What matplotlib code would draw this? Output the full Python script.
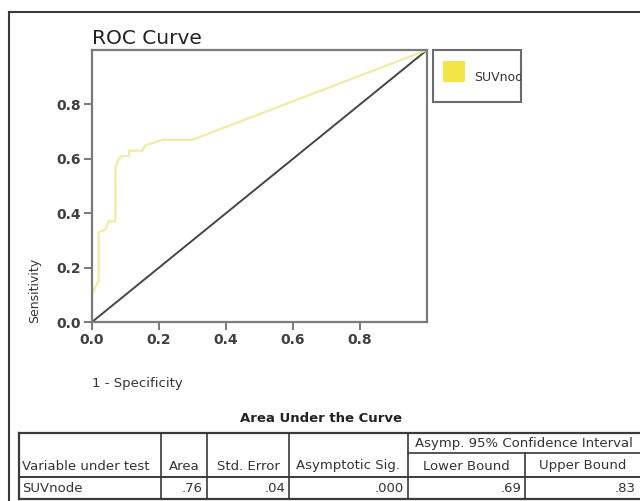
import matplotlib
matplotlib.use("Agg")
import matplotlib.pyplot as plt
from matplotlib.lines import Line2D
from matplotlib.patches import Rectangle

# --- data -------------------------------------------------------------
fpr = [0, 0, 0.01, 0.02, 0.02, 0.04, 0.05, 0.07, 0.07, 0.08, 0.09, 0.11,
       0.11, 0.15, 0.16, 0.21, 0.30, 1.0]
tpr = [0, 0.10, 0.13, 0.15, 0.33, 0.34, 0.37, 0.37, 0.57, 0.60, 0.61, 0.61,
       0.63, 0.63, 0.65, 0.67, 0.67, 1.0]
ref_line = [0, 1]
ticks = [0.0, 0.2, 0.4, 0.6, 0.8]
series_name = "SUVnode"

table_title = "Area Under the Curve"
header_top = "Asymp. 95% Confidence Interval"
headers = ["Variable under test", "Area", "Std. Error", "Asymptotic Sig.",
           "Lower Bound", "Upper Bound"]
row = ["SUVnode", ".76", ".04", ".000", ".69", ".83"]

W, H = 640, 501
GREY = "#3a3a3a"
AXG = "#7a7a7a"


def px(x, y):
    return x / W, 1 - y / H


fig = plt.figure(figsize=(W / 100, H / 100), dpi=100)
fig.patch.set_facecolor("white")

# outer frame (top and left only)
fig.add_artist(Line2D([px(9, 0)[0], 1], [px(0, 12)[1]] * 2, color=GREY, lw=1.5))
fig.add_artist(Line2D([px(9, 0)[0]] * 2, [px(0, 12)[1], 0], color=GREY, lw=1.5))

# --- ROC plot ---------------------------------------------------------
ax = fig.add_axes([92 / W, 1 - 322 / H, (427 - 92) / W, (322 - 50) / H])
ax.plot(ref_line, ref_line, color="#454545", lw=1.4)
ax.plot(fpr, tpr, color="#f0eba6", lw=1.6)
ax.set_xlim(0, 1)
ax.set_ylim(0, 1)
ax.set_xticks(ticks)
ax.set_yticks(ticks)
ax.set_xticklabels([f"{t:.1f}" for t in ticks])
ax.set_yticklabels([f"{t:.1f}" for t in ticks])
for s in ax.spines.values():
    s.set_color(AXG)
    s.set_linewidth(1.6)
ax.tick_params(direction="out", length=6, width=1.4, color=AXG,
               labelsize=10, labelcolor="#404040", pad=2)
for lab in ax.get_xticklabels() + ax.get_yticklabels():
    lab.set_fontweight("bold")

fig.text(*px(92, 44), "ROC Curve", fontsize=14.5, color="#222222",
         ha="left", va="baseline")
fig.text(*px(35, 290), "Sensitivity", fontsize=9, color="#333333",
         rotation=90, ha="center", va="center")
fig.text(*px(92, 383), "1 - Specificity", fontsize=9.5, color="#333333",
         ha="left", va="center")

# legend box with clipped label
leg = Rectangle(px(433, 102), 88 / W, 52 / H, transform=fig.transFigure,
                fill=False, edgecolor="#6a6a6a", lw=1.5)
fig.add_artist(leg)
fig.add_artist(Rectangle(px(443, 82), 22 / W, 21 / H, transform=fig.transFigure,
                         facecolor="#f3e545", edgecolor="none"))
lt = fig.text(*px(474, 77), series_name, fontsize=9, color="#333333",
              ha="left", va="center")
lt.set_clip_path(leg)

# --- AUC table --------------------------------------------------------
fig.text(*px(321, 418), table_title, fontsize=9.5, fontweight="bold",
         color="#222222", ha="center", va="center")

cols = [19, 161, 207, 289, 408, 525, 640]
y_top, y_mid, y_row, y_bot = 433, 453, 477, 499


def hline(x0, x1, y, lw=1.2):
    fig.add_artist(Line2D([x0 / W, x1 / W], [1 - y / H] * 2, color=GREY, lw=lw))


def vline(x, y0, y1, lw=1.2):
    fig.add_artist(Line2D([x / W] * 2, [1 - y0 / H, 1 - y1 / H], color=GREY, lw=lw))


hline(cols[0], cols[-1], y_top, 1.6)
hline(cols[4], cols[-1], y_mid)
hline(cols[0], cols[-1], y_row, 1.4)
hline(cols[0], cols[-1], y_bot, 1.6)
vline(cols[0], y_top, y_bot, 1.6)
for c in cols[1:5]:
    vline(c, y_top, y_bot)
vline(cols[5], y_mid, y_bot)

tfs = 9.5
fig.text(*px((cols[4] + cols[6]) / 2, 443), header_top, fontsize=tfs,
         color="#333333", ha="center", va="center")
for i, h in enumerate(headers):
    if i == 0:
        fig.text(*px(cols[0] + 3, 466), h, fontsize=tfs, color="#333333",
                 ha="left", va="center")
    else:
        fig.text(*px((cols[i] + cols[i + 1]) / 2, 466), h, fontsize=tfs,
                 color="#333333", ha="center", va="center")
for i, v in enumerate(row):
    if i == 0:
        fig.text(*px(cols[0] + 3, 488), v, fontsize=tfs, color="#333333",
                 ha="left", va="center")
    else:
        fig.text(*px(cols[i + 1] - 4, 488), v, fontsize=tfs, color="#333333",
                 ha="right", va="center")

fig.savefig("out.png", dpi=100)
